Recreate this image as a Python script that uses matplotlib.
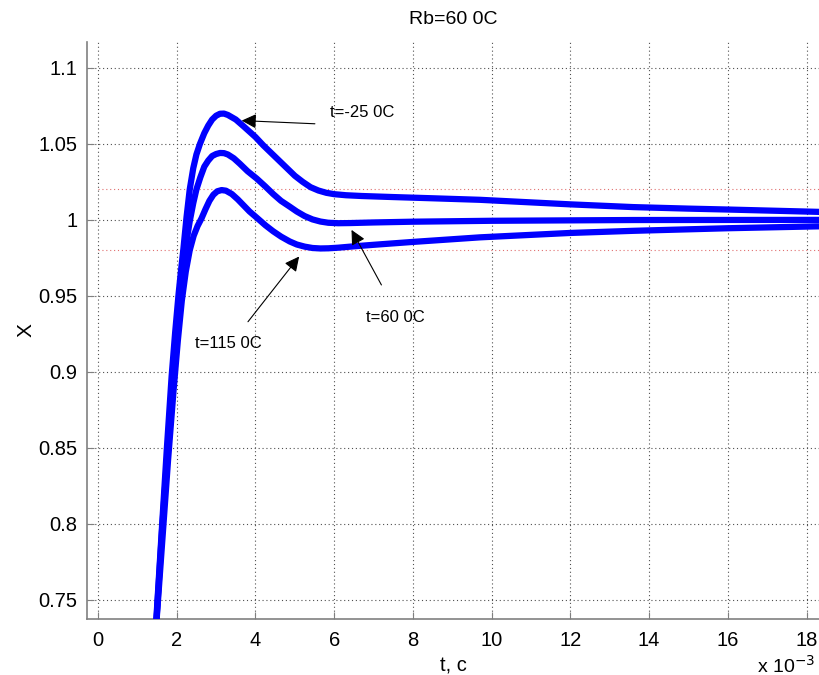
import matplotlib
matplotlib.use("Agg")
import matplotlib.pyplot as plt

plt.rcParams['font.family'] = ['Liberation Sans', 'DejaVu Sans']

# time in units of 1e-3 s
t_top = [1.40, 1.50, 1.63, 1.75, 1.87, 1.96, 2.05, 2.11, 2.17, 2.25, 2.33, 2.42, 2.50, 2.59, 2.70, 2.80, 2.90,
         3.00, 3.10, 3.20, 3.30, 3.50, 3.70, 3.85, 4.00, 4.20, 4.40, 4.60, 4.80, 5.00, 5.20, 5.40, 5.60, 5.80,
         6.00, 6.30, 6.70, 7.50, 8.50, 9.70, 11.0, 12.0, 13.6, 15.0, 16.0, 17.2, 18.4]
x_top = [0.700, 0.745, 0.800, 0.850, 0.897, 0.926, 0.952, 0.967, 0.981, 1.002, 1.020, 1.034, 1.043, 1.050, 1.057, 1.062, 1.066,
         1.0685, 1.0698, 1.0699, 1.069, 1.066, 1.0615, 1.058, 1.0545, 1.049, 1.044, 1.039, 1.034, 1.029, 1.025, 1.0215, 1.0193, 1.0178,
         1.0169, 1.0162, 1.0157, 1.0150, 1.0142, 1.0132, 1.0115, 1.0102, 1.0084, 1.0074, 1.0068, 1.0060, 1.0052]

t_mid = [1.40, 1.50, 1.63, 1.76, 1.90, 2.00, 2.09, 2.17, 2.25, 2.33, 2.42, 2.50, 2.60, 2.70, 2.80, 2.90,
         3.00, 3.10, 3.20, 3.30, 3.45, 3.60, 3.80, 4.03, 4.25, 4.45, 4.65, 4.87, 5.05, 5.25, 5.45, 5.65, 5.85,
         6.10, 6.40, 7.00, 8.00, 10.0, 13.6, 18.4]
x_mid = [0.700, 0.743, 0.797, 0.845, 0.893, 0.925, 0.950, 0.970, 0.986, 0.999, 1.011, 1.020, 1.028, 1.035, 1.039, 1.042,
         1.0433, 1.044, 1.0439, 1.043, 1.0405, 1.037, 1.032, 1.0272, 1.022, 1.017, 1.0125, 1.0087, 1.0055, 1.0025, 1.0003, 0.9989, 0.9981,
         0.9978, 0.9979, 0.9983, 0.9988, 0.9994, 0.9999, 1.0]

t_bot = [1.40, 1.50, 1.65, 1.78, 1.92, 2.03, 2.13, 2.23, 2.33, 2.43, 2.53, 2.63, 2.73, 2.83, 2.93, 3.03, 3.14,
         3.25, 3.40, 3.55, 3.70, 3.85, 4.03, 4.25, 4.45, 4.65, 4.87, 5.05, 5.25, 5.45, 5.65, 5.85, 6.10, 6.50,
         7.00, 8.00, 9.70, 12.0, 13.6, 16.0, 18.4]
x_bot = [0.700, 0.741, 0.795, 0.842, 0.888, 0.921, 0.947, 0.966, 0.980, 0.9895, 0.9960, 1.0010, 1.0070, 1.0125, 1.0165, 1.0188, 1.0196,
         1.0192, 1.0170, 1.0135, 1.0095, 1.0055, 1.0015, 0.9965, 0.9925, 0.9890, 0.9858, 0.9838, 0.9824, 0.9815, 0.9812, 0.9813, 0.9817, 0.9826,
         0.9836, 0.9855, 0.9885, 0.9914, 0.9928, 0.9945, 0.9958]

band_levels = [1.02, 0.98]
xticks = [0, 2, 4, 6, 8, 10, 12, 14, 16, 18]
yticks = [0.75, 0.8, 0.85, 0.9, 0.95, 1.0, 1.05, 1.1]
ytick_labels = ['0.75', '0.8', '0.85', '0.9', '0.95', '1', '1.05', '1.1']

fig = plt.figure(figsize=(8.19, 6.75), dpi=100)
ax = fig.add_axes([0.1062, 0.083, 0.894, 0.8548])

ax.set_xlim(-0.28, 18.32)
ax.set_ylim(0.7375, 1.117)

ax.set_xticks(xticks)
ax.set_yticks(yticks)
ax.set_yticklabels(ytick_labels)
ax.grid(True, linestyle=(0, (1, 2.5)), color='#505050', linewidth=0.8)
ax.set_axisbelow(True)

for lev in band_levels:
    ax.plot([0, 18.32], [lev, lev], linestyle=(0, (1, 2.5)), color='#e07070', linewidth=0.8, zorder=1)

for tt, xx in [(t_top, x_top), (t_mid, x_mid), (t_bot, x_bot)]:
    ax.plot(tt, xx, color='#0000ff', linewidth=4.5, solid_joinstyle='round', solid_capstyle='butt', zorder=3)

for s in ['top', 'right']:
    ax.spines[s].set_visible(False)
for s in ['left', 'bottom']:
    ax.spines[s].set_color('#808080')
    ax.spines[s].set_linewidth(1.2)
ax.tick_params(direction='in', length=5, color='#808080', labelsize=14.5)
ax.tick_params(axis='x', pad=9)
ax.tick_params(axis='y', pad=7)

arrow = dict(arrowstyle='-|>', color='black', lw=0.8, mutation_scale=22, shrinkA=0, shrinkB=0)
ax.annotate('', xy=(3.65, 1.0653), xytext=(5.51, 1.0632), arrowprops=arrow, zorder=4)
ax.text(5.89, 1.0704, 't=-25 0C', fontsize=12, ha='left', va='center')
ax.annotate('', xy=(6.44, 0.9934), xytext=(7.20, 0.9572), arrowprops=arrow, zorder=4)
ax.text(7.56, 0.9355, 't=60 0C', fontsize=12, ha='center', va='center')
ax.annotate('', xy=(5.11, 0.9759), xytext=(3.81, 0.933), arrowprops=arrow, zorder=4)
ax.text(3.32, 0.919, 't=115 0C', fontsize=12, ha='center', va='center')

ax.set_title('Rb=60 0C', fontsize=14, pad=13)
ax.set_xlabel('t, c', fontsize=14.5, labelpad=4)
ax.set_ylabel('X', fontsize=15, labelpad=2)
fig.text(0.995, 0.014, r'x 10$^{-3}$', fontsize=14, ha='right', va='center')

fig.savefig('out.png', dpi=100)
